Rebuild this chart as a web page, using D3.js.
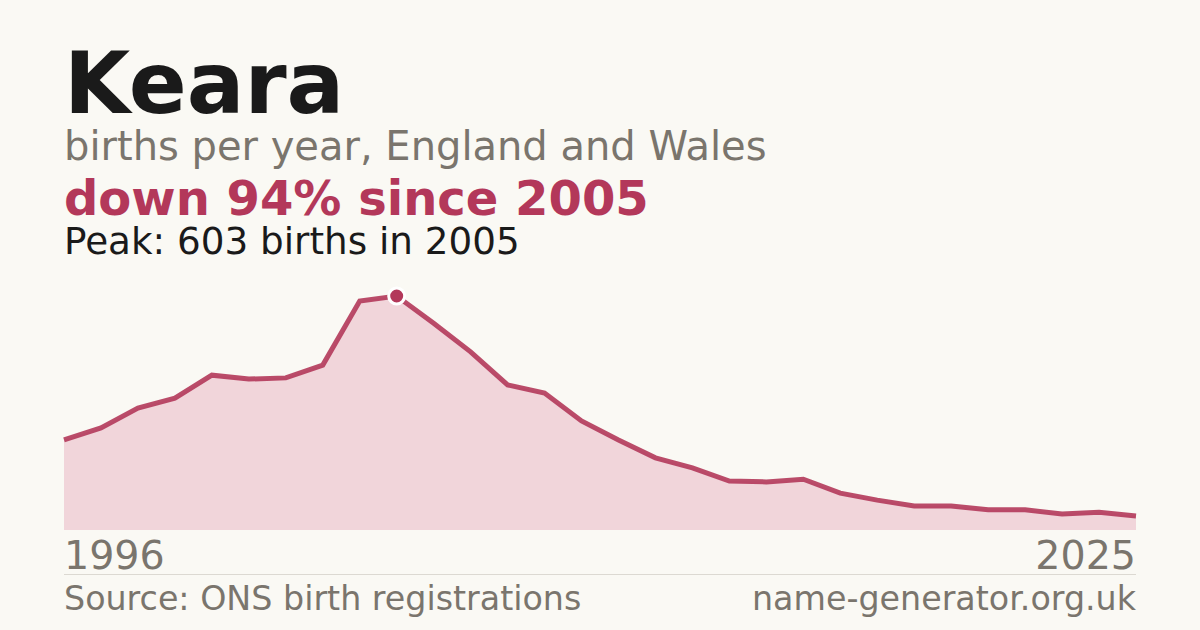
<!DOCTYPE html>
<html>
<head>
<meta charset="utf-8">
<script src="https://cdn.jsdelivr.net/npm/d3@7"></script>
<style>
  html, body { margin: 0; padding: 0; background: #faf9f4; }
  svg { display: block; font-family: 'DejaVu Sans', sans-serif; }
</style>
</head>
<body>
<div id="chart"></div>
<script>
const years = d3.range(1996, 2026)
const births = [
  232, 263, 314, 340, 399, 389, 392, 425, 590, 603,
  533, 459, 374, 353, 281, 232, 186, 160, 126, 124,
  131, 95, 77, 62, 62, 52, 52, 41, 46, 36,
]
const peakYear = 2005
const peakValue = 603
const axisLabels = [1996, 2025]

const width = 1200
const height = 630
const red = '#b3385a'
const grey = '#7a756d'

const data = years.map((y, i) => ({ year: y, value: births[i] }))

const svg = d3
  .select('#chart')
  .append('svg')
  .attr('width', width)
  .attr('height', height)

svg.append('rect').attr('width', width).attr('height', height).attr('fill', '#faf9f4')

const x = d3.scaleLinear().domain([1996, 2025]).range([64, 1136])
const y = d3.scaleLinear().domain([0, peakValue]).range([530, 296])

// header texts
svg.append('text')
  .attr('x', 64).attr('y', 113)
  .attr('font-size', 85.5).attr('font-weight', 'bold')
  .attr('fill', '#1a1a1a')
  .text('Keara')

svg.append('text')
  .attr('x', 64).attr('y', 160)
  .attr('font-size', 40)
  .attr('fill', grey)
  .text('births per year, England and Wales')

svg.append('text')
  .attr('x', 64).attr('y', 215)
  .attr('font-size', 48).attr('font-weight', 'bold')
  .attr('fill', red)
  .text('down 94% since 2005')

svg.append('text')
  .attr('x', 64).attr('y', 254)
  .attr('font-size', 37.3)
  .attr('fill', '#1a1a1a')
  .text('Peak: 603 births in 2005')

// area + line
const area = d3.area()
  .x(d => x(d.year))
  .y0(y(0))
  .y1(d => y(d.value))

const line = d3.line()
  .x(d => x(d.year))
  .y(d => y(d.value))

svg.append('path')
  .datum(data)
  .attr('d', area)
  .attr('fill', '#f1d5da')

svg.append('path')
  .datum(data)
  .attr('d', line)
  .attr('fill', 'none')
  .attr('stroke', red)
  .attr('stroke-width', 5)
  .attr('stroke-opacity', 0.9)
  .attr('stroke-linejoin', 'miter')

// peak marker
svg.append('circle')
  .attr('cx', x(peakYear))
  .attr('cy', y(peakValue))
  .attr('r', 8)
  .attr('fill', red)
  .attr('stroke', '#ffffff')
  .attr('stroke-width', 3)

// year labels
svg.selectAll('text.year')
  .data(axisLabels)
  .join('text')
  .attr('class', 'year')
  .attr('x', d => x(d))
  .attr('y', 569)
  .attr('text-anchor', (d, i) => (i === 0 ? 'start' : 'end'))
  .attr('font-size', 39.6)
  .attr('fill', grey)
  .text(d => d)

// separator
svg.append('line')
  .attr('x1', 64).attr('x2', 1136)
  .attr('y1', 574.5).attr('y2', 574.5)
  .attr('stroke', '#dcd9d2')
  .attr('stroke-width', 1)

// footer
svg.append('text')
  .attr('x', 64).attr('y', 610)
  .attr('font-size', 33.3)
  .attr('fill', grey)
  .text('Source: ONS birth registrations')

svg.append('text')
  .attr('x', 1136).attr('y', 610)
  .attr('text-anchor', 'end')
  .attr('font-size', 33.3)
  .attr('fill', grey)
  .text('name-generator.org.uk')
</script>
</body>
</html>
